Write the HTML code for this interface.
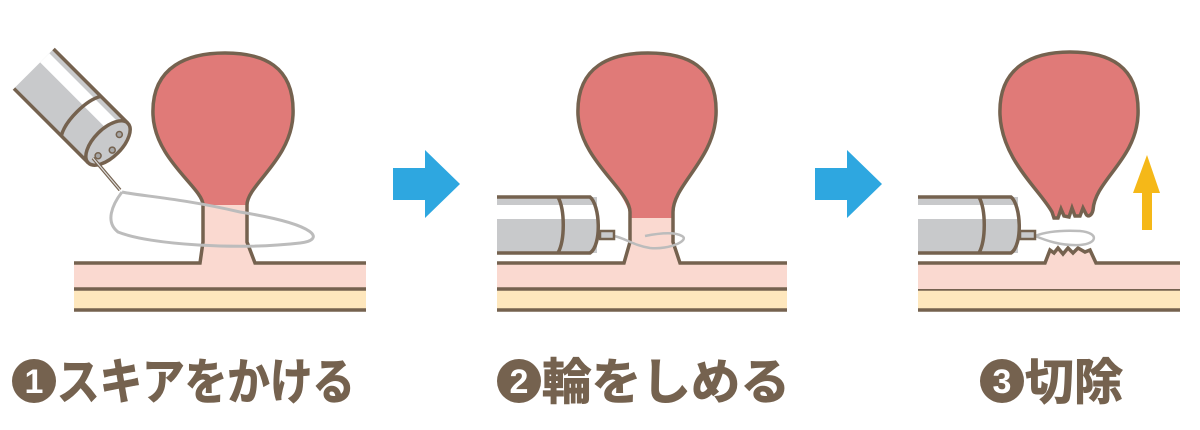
<!DOCTYPE html>
<html><head><meta charset="utf-8"><style>
html,body{margin:0;padding:0;background:#fff;width:1200px;height:430px;overflow:hidden}
svg text{font-family:"Liberation Sans","Noto Sans CJK JP",sans-serif;font-weight:bold}
</style></head><body>
<svg width="1200" height="430" viewBox="0 0 1200 430" xmlns="http://www.w3.org/2000/svg">
<defs>
<clipPath id="c1"><rect x="0" y="0" width="1200" height="212"/></clipPath>
<clipPath id="c2"><rect x="0" y="0" width="1200" height="218"/></clipPath>
</defs>
<g stroke="#75624f" stroke-width="3.5" fill="none">
<rect x="74" y="263" width="292" height="26" fill="#fad9d0" stroke="none"/>
<rect x="74" y="289" width="292" height="21" fill="#fee7bd" stroke="none"/>
<line x1="74" y1="289" x2="366" y2="289"/><line x1="74" y1="310" x2="366" y2="310"/>
<path d="M74,263 L200,263 L203,242 L203,205 C203,188 155,160 153,115 C151,65 190,53 225,53 C262,53 295,65 293,115 C291,160 247,185 247,205 L247,242 L255,263 L366,263" fill="#fad9d0" stroke="none"/>
<path d="M203,205 C203,188 155,160 153,115 C151,65 190,53 225,53 C262,53 295,65 293,115 C291,160 247,185 247,205 Z" fill="#e07a78" stroke="none" clip-path="url(#c1)"/>
<path d="M74,263 L200,263 L203,242 L203,205 C203,188 155,160 153,115 C151,65 190,53 225,53 C262,53 295,65 293,115 C291,160 247,185 247,205 L247,242 L255,263 L366,263"/>
<path d="M122,192 C140,196 180,198 240,212 C320,225 325,240 300,243 C240,250 150,245 118,232 C105,222 112,205 122,192" stroke="#bcbcbc" stroke-width="3"/>
<g transform="translate(108,143) rotate(45)">
<rect x="-105" y="-28" width="105" height="56" fill="#c8c9cb" stroke="none"/>
<rect x="-105" y="-22" width="105" height="13" fill="#fff" stroke="none"/>
<line x1="-105" y1="-28" x2="0" y2="-28"/><line x1="-105" y1="28" x2="0" y2="28"/>
<path d="M-38,-28 C-46,-15 -46,15 -38,28"/>
<ellipse cx="0" cy="0" rx="14" ry="28" fill="#c8c9cb"/>
<circle cx="2" cy="-14" r="3" fill="#a6a6a6" stroke-width="1.5"/>
<circle cx="8" cy="2" r="3" fill="#a6a6a6" stroke-width="1.5"/>
<circle cx="2" cy="16" r="3" fill="#a6a6a6" stroke-width="1.5"/>
</g>
<path d="M93,158 L120,190" stroke-width="3.5"/>
<path d="M93,158 L120,190" stroke="#ddd" stroke-width="1.2"/>

<rect x="497" y="263" width="290" height="26" fill="#fad9d0" stroke="none"/>
<rect x="497" y="289" width="290" height="21" fill="#fee7bd" stroke="none"/>
<line x1="497" y1="289" x2="787" y2="289"/><line x1="497" y1="310" x2="787" y2="310"/>
<path d="M497,263 L624,263 L630,242 L630,212 C630,190 580,160 578,115 C576,65 612,53 648,53 C686,53 718,65 716,115 C714,160 673,185 673,212 L673,242 L680,263 L787,263" fill="#fad9d0" stroke="none"/>
<path d="M630,220 C630,190 580,160 578,115 C576,65 612,53 648,53 C686,53 718,65 716,115 C714,160 673,185 673,212 L673,220 Z" fill="#e07a78" stroke="none" clip-path="url(#c2)"/>
<path d="M497,263 L624,263 L630,242 L630,212 C630,190 580,160 578,115 C576,65 612,53 648,53 C686,53 718,65 716,115 C714,160 673,185 673,212 L673,242 L680,263 L787,263"/>
<path d="M614,236 C625,238 632,245 650,248 C670,250 690,240 682,236 C675,232 660,233 645,236" stroke="#bcbcbc" stroke-width="2.5"/>
<rect x="497" y="197" width="100" height="56" fill="#c8c9cb" stroke="none"/>
<rect x="497" y="205" width="100" height="14" fill="#fff" stroke="none"/>
<path d="M497,197 L590,197 C600,205 602,245 590,253 L497,253"/>
<path d="M558,197 C565,210 565,240 558,253"/>
<rect x="600" y="231" width="14" height="8" fill="#c8c9cb" stroke-width="2.5"/>

<rect x="918" y="263" width="262" height="26" fill="#fad9d0" stroke="none"/>
<rect x="918" y="289" width="262" height="21" fill="#fee7bd" stroke="none"/>
<line x1="918" y1="289" x2="1180" y2="289"/><line x1="918" y1="310" x2="1180" y2="310"/>
<path d="M918,263 L1045,263 L1050,250 L1054,253 L1058,248 L1063,254 L1068,248 L1073,253 L1078,248 L1085,252 L1090,250 L1096,263 L1180,263 L1180,289 L918,289Z" fill="#fad9d0" stroke="none"/>
<path d="M918,263 L1045,263 L1050,250 L1054,253 L1058,248 L1063,254 L1068,248 L1073,253 L1078,248 L1085,252 L1090,250 L1096,263 L1180,263"/>
<path d="M1052,212 C1040,190 1002,160 1000,115 C998,65 1035,52 1070,52 C1108,52 1140,65 1138,115 C1136,160 1095,180 1093,210 C1092,215 1088,218 1086,214 L1083,208 L1080,216 L1075,216 L1072,208 L1069,217 L1064,216 L1061,209 L1058,218 L1054,218 Z" fill="#e07a78"/>
<path d="M1035,236 C1045,232 1060,230 1080,231 C1100,233 1097,244 1080,245 C1060,246 1045,240 1035,236" stroke="#bcbcbc" stroke-width="2.5"/>
<rect x="918" y="197" width="100" height="56" fill="#c8c9cb" stroke="none"/>
<rect x="918" y="205" width="100" height="14" fill="#fff" stroke="none"/>
<path d="M918,197 L1011,197 C1021,205 1023,245 1011,253 L918,253"/>
<path d="M979,197 C986,210 986,240 979,253"/>
<rect x="1020" y="231" width="15" height="8" fill="#c8c9cb" stroke-width="2.5"/>
</g>
<polygon points="1147,155 1160,193 1152,193 1152,230 1142,230 1142,193 1133,193" fill="#f5b818"/>
<polygon points="393,168 425,168 425,150 460,184 425,218 425,200 393,200" fill="#2ea7e0"/>
<polygon points="815,168 847,168 847,150 882,184 847,218 847,200 815,200" fill="#2ea7e0"/>
<g fill="#75624f">
<circle cx="34" cy="381" r="22"/><circle cx="519" cy="381" r="22"/><circle cx="1002" cy="381" r="22"/>
</g>
<g fill="#fff" font-size="34" text-anchor="middle">
<text x="34" y="393">1</text><text x="519" y="393">2</text><text x="1002" y="393">3</text>
</g>
<g fill="#75624f" font-size="49" stroke="#75624f" stroke-width="1">
<text x="57" y="399" textLength="298" lengthAdjust="spacingAndGlyphs">スキアをかける</text>
<text x="542" y="399" textLength="248" lengthAdjust="spacingAndGlyphs">輪をしめる</text>
<text x="1025" y="399" textLength="98" lengthAdjust="spacingAndGlyphs">切除</text>
</g>
</svg>
</body></html>
